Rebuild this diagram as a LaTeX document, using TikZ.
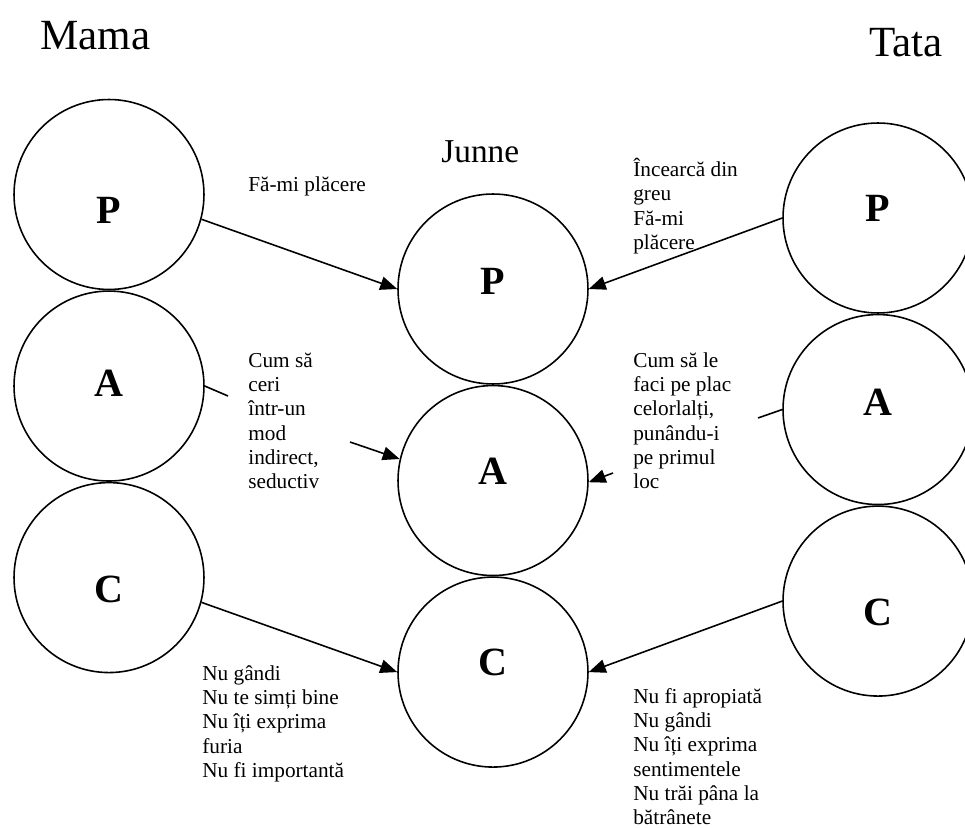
\documentclass[tikz,border=0pt]{standalone}
\usepackage{fontspec}
\setmainfont{Liberation Serif}
\usepackage{tikz}
\usetikzlibrary{positioning, arrows.meta}

\begin{document}
\begin{tikzpicture}[
    x=0.02cm, y=-0.02cm,
    node distance=0pt,
    ego/.style={
        circle, draw=black, line width=0.9pt,
        minimum size=3.8cm, inner sep=0pt
    },
    letter/.style 2 args={
        label={[font=\fontsize{22.8}{27}\selectfont\bfseries, yshift=#2]center:#1}
    },
    title/.style={anchor=base west, inner sep=0pt, font=\fontsize{24.5}{29}\selectfont},
    msg/.style={anchor=north west, align=left, inner sep=0pt, font=\fontsize{12.1}{13.8}\selectfont},
    arrow/.style={-{Triangle[length=0.34cm, width=0.27cm]}, line width=0.9pt},
    link/.style={line width=0.9pt}
]
\useasboundingbox (0,0) rectangle (965,828);
\clip (0,0) rectangle (965,828);

% Left: Mama
\node[title] (mama) at (40,50) {Mama};
\node[ego, letter={P}{-0.32cm}] (mamaP) at (109,194.5) {};
\node[ego, letter={A}{0.06cm}, below=of mamaP] (mamaA) {};
\node[ego, letter={C}{-0.24cm}, below=of mamaA] (mamaC) {};

% Middle: Junne
\node[title, font=\fontsize{19}{23}\selectfont] (junne) at (441,163) {Junne};
\node[ego, letter={P}{0.16cm}] (junneP) at (493,289) {};
\node[ego, letter={A}{0.18cm}, below=of junneP] (junneA) {};
\node[ego, letter={C}{0.2cm}, below=of junneA] (junneC) {};

% Right: Tata
\node[title] (tata) at (869,57) {Tata};
\node[ego, letter={P}{0.2cm}] (tataP) at (878,218) {};
\node[ego, letter={A}{0.14cm}, below=of tataP] (tataA) {};
\node[ego, letter={C}{-0.22cm}, below=of tataA] (tataC) {};

% messages
\node[msg] (msgMP) at (248,174) {\strut Fă-mi plăcere};
\node[msg] (msgTP) at (633,158) {\strut Încearcă din \\ greu \\ Fă-mi \\ plăcere};
\node[msg] (msgMA) at (248,350) {\strut Cum să \\ ceri \\ într-un \\ mod \\ indirect, \\ seductiv};
\node[msg] (msgTA) at (633,350) {\strut Cum să le \\ faci pe plac \\ celorlalți, \\ punându-i \\ pe primul \\ loc};
\node[msg] (msgMC) at (202,663) {\strut Nu gândi \\ Nu te simți bine \\ Nu îți exprima \\ furia \\ Nu fi importantă};
\node[msg] (msgTC) at (633,686) {\strut Nu fi apropiată \\ Nu gândi \\ Nu îți exprima \\ sentimentele \\ Nu trăi pâna la \\ bătrânete};

\coordinate (mamaAout) at (228,396);
\coordinate (mamaAin) at (350,442);
\coordinate (tataAout) at (758,418);
\coordinate (tataAin) at (613,473);

\draw[arrow] (mamaP.-15) -- (junneP.west);
\draw[arrow] (tataP.west) -- (junneP.east);

\draw[link] (mamaA.east) -- (mamaAout);
\draw[arrow] (mamaAin) -- (junneA.167);
\draw[link] (tataA.west) -- (tataAout);
\draw[arrow] (tataAin) -- (junneA.-1);

\draw[arrow] (mamaC.-15) -- (junneC.west);
\draw[arrow] (tataC.west) -- (junneC.east);

\end{tikzpicture}
\end{document}
